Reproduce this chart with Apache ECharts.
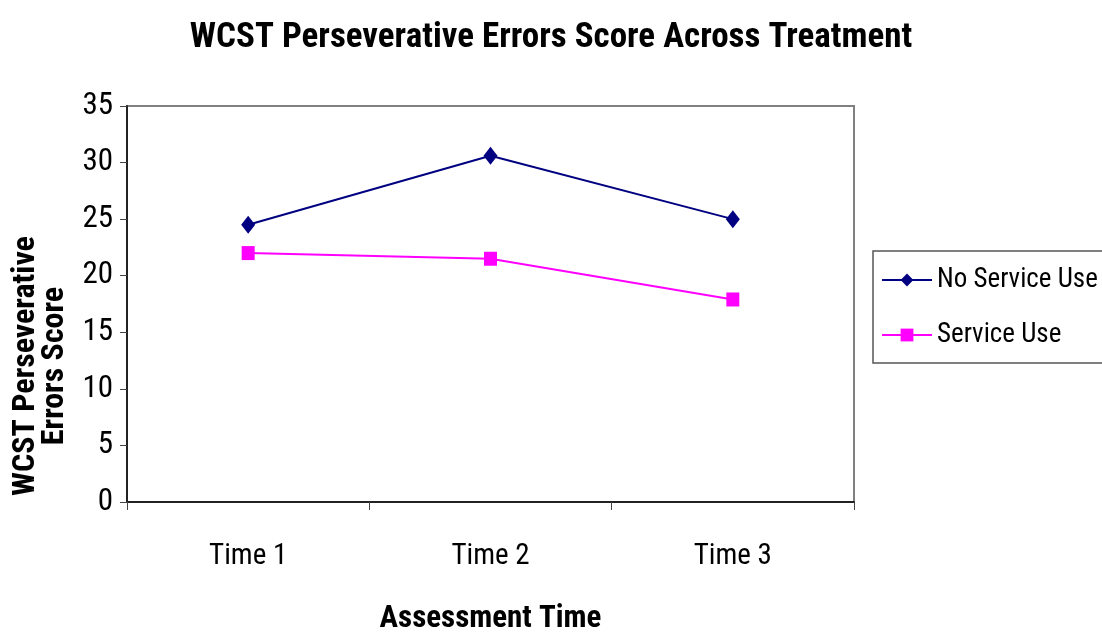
<!DOCTYPE html>
<html>
<head>
<meta charset="utf-8">
<script src="https://cdn.jsdelivr.net/npm/echarts@6/dist/echarts.min.js"></script>
<style>
html,body{margin:0;padding:0;background:#fff;}
#chart{width:1102px;height:632px;}
</style>
</head>
<body>
<div id="chart"></div>
<script>
const categories = ["Time 1", "Time 2", "Time 3"];
const noServiceUse = [24.5, 30.6, 25.0];
const serviceUse = [22.0, 21.5, 17.9];
const seriesNames = ["No Service Use", "Service Use"];
const titleText = "WCST Perseverative Errors Score Across Treatment";
const xAxisName = "Assessment Time";
const yAxisName = "WCST Perseverative\nErrors Score";

const FONT = '"Roboto Condensed", "Liberation Sans Narrow", "Arial Narrow", sans-serif';

const chart = echarts.init(document.getElementById('chart'), null, {renderer: 'canvas'});
chart.setOption({
  animation: false,
  backgroundColor: '#ffffff',
  title: {
    text: titleText,
    left: 'center',
    top: 16,
    textStyle: {fontFamily: FONT, fontWeight: 'bold', fontSize: 35, color: '#000'}
  },
  grid: {
    left: 127, right: 248, top: 106, bottom: 130,
    outerBoundsMode: 'none',
    containLabel: false,
    show: true, borderColor: '#808080', borderWidth: 2, backgroundColor: '#fff'
  },
  legend: {
    orient: 'vertical',
    left: 873, top: 251,
    padding: [14, 30, 13, 8],
    itemGap: 25,
    itemWidth: 50,
    itemHeight: 16,
    borderColor: '#555',
    borderWidth: 1.5,
    backgroundColor: '#fff',
    textStyle: {fontFamily: FONT, fontSize: 27, color: '#000', lineHeight: 30},
    data: seriesNames
  },
  xAxis: {
    type: 'category',
    data: categories,
    boundaryGap: true,
    name: xAxisName,
    nameLocation: 'middle',
    nameGap: 102,
    nameTextStyle: {fontFamily: FONT, fontWeight: 'bold', fontSize: 31, color: '#000'},
    axisLine: {lineStyle: {color: '#222', width: 2}},
    axisTick: {show: true, length: 8, lineStyle: {color: '#444', width: 1}},
    axisLabel: {fontFamily: FONT, fontSize: 29, color: '#000', margin: 40}
  },
  yAxis: {
    type: 'value',
    min: 0, max: 35, interval: 5,
    name: yAxisName,
    nameLocation: 'middle',
    nameRotate: 90,
    nameGap: 58,
    nameTextStyle: {fontFamily: FONT, fontWeight: 'bold', fontSize: 32, color: '#000', lineHeight: 29, padding: [0, 124, 0, 0]},
    splitLine: {show: false},
    axisLine: {show: true, lineStyle: {color: '#222', width: 2}},
    axisTick: {show: true, length: 7, lineStyle: {color: '#444', width: 1}},
    axisLabel: {fontFamily: FONT, fontSize: 31, color: '#000', margin: 14}
  },
  series: [
    {
      name: seriesNames[0],
      type: 'line',
      data: noServiceUse,
      symbol: 'diamond',
      symbolSize: [14, 18],
      color: '#000080',
      lineStyle: {color: '#000080', width: 2},
      itemStyle: {color: '#000080'}
    },
    {
      name: seriesNames[1],
      type: 'line',
      data: serviceUse,
      symbol: 'rect',
      symbolSize: [13, 14],
      color: '#FF00FF',
      lineStyle: {color: '#FF00FF', width: 2},
      itemStyle: {color: '#FF00FF'}
    }
  ]
});
</script>
</body>
</html>
